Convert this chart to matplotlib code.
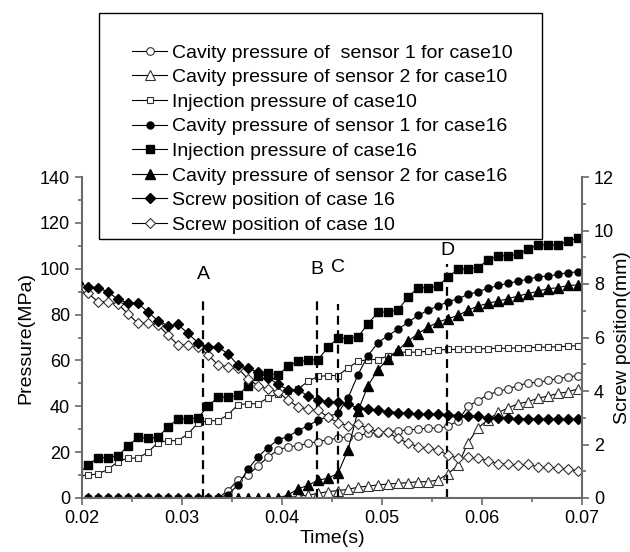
import matplotlib.pyplot as plt
from matplotlib.patches import Rectangle
from matplotlib.ticker import FormatStrFormatter, MultipleLocator

plt.rcParams['font.family'] = ['Liberation Sans', 'DejaVu Sans']

# sampling times (s)
time_s = [0.0196, 0.0206, 0.0216, 0.0226, 0.0236, 0.0246, 0.0256, 0.0266, 0.0276, 0.0286,
          0.0296, 0.0306, 0.0316, 0.0326, 0.0336, 0.0346, 0.0356, 0.0366, 0.0376, 0.0386,
          0.0396, 0.0406, 0.0416, 0.0426, 0.0436, 0.0446, 0.0456, 0.0466, 0.0476, 0.0486,
          0.0496, 0.0506, 0.0516, 0.0526, 0.0536, 0.0546, 0.0556, 0.0566, 0.0576, 0.0586,
          0.0596, 0.0606, 0.0616, 0.0626, 0.0636, 0.0646, 0.0656, 0.0666, 0.0676, 0.0686,
          0.0696]

# pressures (MPa)
inj_16 = [10.5, 14.4, 17.6, 17.6, 18.4, 22.7, 26.5, 26.0, 26.5, 31.0, 34.5, 34.5, 35.0,
          40.0, 44.0, 44.0, 44.8, 49.0, 53.0, 54.5, 53.5, 57.5, 59.6, 60.0, 60.4, 65.7,
          69.9, 69.5, 70.3, 76.0, 81.0, 81.2, 82.0, 87.6, 91.7, 91.7, 92.4, 96.5, 99.7,
          100.0, 100.5, 103.7, 105.6, 105.6, 106.3, 108.5, 110.4, 110.4, 110.4, 112.0, 113.3]
inj_10 = [9.5, 10.0, 10.5, 12.5, 15.9, 17.4, 17.4, 20.0, 24.2, 25.0, 25.0, 28.0, 32.7,
          33.7, 33.7, 36.3, 40.7, 41.1, 41.1, 43.7, 45.5, 46.5, 47.5, 50.9, 53.0, 53.4,
          53.4, 56.7, 59.6, 60.4, 60.4, 62.0, 63.6, 63.6, 63.6, 64.0, 64.5, 64.8, 64.8,
          65.0, 65.0, 65.2, 65.3, 65.3, 65.5, 65.6, 65.8, 65.8, 66.0, 66.2, 66.5]
cav1_16 = [0, 0, 0, 0, 0, 0, 0, 0, 0, 0, 0, 0, 0, 0, 0,
           1.5, 5.7, 12.5, 18.0, 22.0, 25.4, 26.8, 29.4, 31.5, 34.0, 35.5, 37.0, 43.6,
           53.8, 62.1, 67.8, 70.8, 73.6, 76.6, 79.6, 81.9, 83.7, 85.6, 86.9, 88.8, 90.0,
           91.4, 92.7, 93.6, 94.6, 95.4, 96.5, 96.8, 97.5, 98.3, 98.6]
cav1_10 = [0, 0, 0, 0, 0, 0, 0, 0, 0, 0, 0, 0, 0, 0, 0,
           3.2, 7.9, 10.0, 14.0, 17.8, 21.0, 22.3, 22.8, 23.8, 24.6, 25.4, 26.1, 26.8,
           27.1, 28.3, 28.3, 29.0, 29.3, 29.7, 30.0, 30.5, 30.5, 31.2, 33.7, 40.0, 42.5,
           45.0, 46.5, 47.6, 49.0, 50.2, 50.4, 51.3, 52.0, 52.8, 53.4]
cav2_16 = [0, 0, 0, 0, 0, 0, 0, 0, 0, 0, 0, 0, 0, 0, 0, 0, 0, 0, 0, 0, 0,
           1.3, 4.0, 5.5, 7.8, 8.6, 10.8, 21.0, 38.0, 49.0, 56.0, 60.7, 64.5, 68.4,
           71.7, 74.5, 76.7, 78.2, 79.6, 81.9, 83.7, 84.9, 85.9, 86.9, 88.1, 89.1,
           90.2, 91.3, 91.7, 92.7, 92.9]
cav2_10 = [0, 0, 0, 0, 0, 0, 0, 0, 0, 0, 0, 0, 0, 0, 0, 0, 0, 0, 0, 0, 0, 0,
           0.8, 1.2, 2.0, 2.8, 3.2, 3.8, 4.7, 5.2, 5.7, 6.1, 6.4, 6.7, 7.1, 7.1, 7.9,
           10.5, 14.4, 24.0, 30.6, 34.1, 37.3, 39.2, 41.1, 42.0, 43.5, 44.5, 45.6,
           46.3, 47.6]

# screw positions (mm)
screw_16 = [8.05, 7.9, 7.86, 7.7, 7.43, 7.28, 7.28, 6.95, 6.62, 6.44, 6.49, 6.15, 5.81,
            5.66, 5.66, 5.38, 4.97, 4.85, 4.7, 4.5, 4.25, 4.04, 4.04, 3.82, 3.66, 3.6,
            3.6, 3.52, 3.35, 3.32, 3.29, 3.23, 3.19, 3.17, 3.14, 3.14, 3.14, 3.12, 3.08,
            3.06, 3.05, 3.0, 3.0, 2.98, 2.97, 2.96, 2.96, 2.95, 2.95, 2.94, 2.94]
screw_10 = [7.75, 7.65, 7.34, 7.34, 7.25, 6.88, 6.53, 6.55, 6.47, 6.09, 5.72, 5.72, 5.66,
            5.36, 4.97, 4.91, 4.85, 4.45, 4.2, 4.06, 3.97, 3.66, 3.41, 3.32, 3.29, 3.02,
            2.82, 2.69, 2.75, 2.6, 2.48, 2.45, 2.23, 2.05, 1.92, 1.86, 1.79, 1.61, 1.48,
            1.54, 1.48, 1.39, 1.27, 1.27, 1.23, 1.27, 1.15, 1.15, 1.11, 1.07, 1.02]

# marked instants A-D
event_labels = ['A', 'B', 'C', 'D']
event_times = [0.0321, 0.0435, 0.0456, 0.0565]
event_tops = [86.6, 85.9, 84.7, 101.9]
event_label_y = [97.5, 99.7, 100.6, 108.0]

W, H = 630, 552
fig = plt.figure(figsize=(W / 100, H / 100), dpi=100)
ax = fig.add_axes([82 / W, 1 - 498 / H, 500 / W, 321 / H])
ax2 = ax.twinx()

grey = '#6a6a6a'
lw = 0.8
op = dict(markerfacecolor='white', markeredgecolor='#333333', markeredgewidth=0.8)
fl = dict(markerfacecolor='black', markeredgecolor='black')

l_c1_10, = ax.plot(time_s, cav1_10, '-', color='k', lw=lw, marker='o', ms=5.5, **op)
l_c2_10, = ax.plot(time_s, cav2_10, '-', color='k', lw=lw, marker='^', ms=6.5, **op)
l_i10, = ax.plot(time_s, inj_10, '-', color='k', lw=lw, marker='s', ms=5, **op)
l_c1_16, = ax.plot(time_s, cav1_16, '-', color='k', lw=lw, marker='o', ms=5, **fl)
l_i16, = ax.plot(time_s, inj_16, '-', color='k', lw=lw, marker='s', ms=5.5, **fl)
l_c2_16, = ax.plot(time_s, cav2_16, '-', color='k', lw=lw, marker='^', ms=6.5, **fl)
l_s10, = ax2.plot(time_s, screw_10, '-', color='k', lw=lw, marker='D', ms=5.5, **op)
l_s16, = ax2.plot(time_s, screw_16, '-', color='k', lw=lw, marker='D', ms=5.5, **fl)

for lab, t, top, ly in zip(event_labels, event_times, event_tops, event_label_y):
    ax.plot([t, t], [0, top], color='k', lw=1.6, dashes=(4, 2.5))
    ax.text(t, ly, lab, ha='center', va='center', fontsize=14)

ax.set_xlim(0.02, 0.07)
ax.set_ylim(0, 140)
ax2.set_ylim(0, 12)

ax.xaxis.set_major_locator(MultipleLocator(0.01))
ax.xaxis.set_minor_locator(MultipleLocator(0.005))
ax.xaxis.set_major_formatter(FormatStrFormatter('%.2f'))
ax.yaxis.set_major_locator(MultipleLocator(20))
ax.yaxis.set_minor_locator(MultipleLocator(10))
ax2.yaxis.set_major_locator(MultipleLocator(2))
ax2.yaxis.set_minor_locator(MultipleLocator(1))

for a in (ax, ax2):
    a.spines['top'].set_visible(False)
    a.tick_params(which='both', direction='out', color=grey, width=1.2, labelsize=13,
                  labelcolor='black')
    a.tick_params(which='major', length=5)
    a.tick_params(which='minor', length=3)
ax.spines['right'].set_visible(False)
ax2.spines['left'].set_visible(False)
ax2.spines['bottom'].set_visible(False)
for s in ('left', 'bottom'):
    ax.spines[s].set_color(grey)
    ax.spines[s].set_linewidth(1.5)
ax2.spines['right'].set_color(grey)
ax2.spines['right'].set_linewidth(1.5)

ax.set_xlabel('Time(s)', fontsize=14, labelpad=2)
ax.set_ylabel('Pressure(MPa)', fontsize=14, labelpad=4)
ax2.set_ylabel('Screw position(mm)', fontsize=14, labelpad=0)

# legend frame sits above the axes
fig.patches.append(Rectangle((99 / W, 1 - 239 / H), (542 - 99) / W, (239 - 13) / H,
                             transform=fig.transFigure, facecolor='white',
                             edgecolor='black', lw=1, zorder=1))

handles = [l_c1_10, l_c2_10, l_i10, l_c1_16, l_i16, l_c2_16, l_s16, l_s10]
labels = ['Cavity pressure of  sensor 1 for case10',
          'Cavity pressure of sensor 2 for case10',
          'Injection pressure of case10',
          'Cavity pressure of sensor 1 for case16',
          'Injection pressure of case16',
          'Cavity pressure of sensor 2 for case16',
          'Screw position of case 16',
          'Screw position of case 10']
fig.legend(handles, labels, loc='upper left', bbox_to_anchor=(132 / W, 1 - 44 / H),
           frameon=False, fontsize=14, handlelength=1.8, handletextpad=0.26,
           labelspacing=0.36, borderpad=0, borderaxespad=0)

fig.savefig('out.png', dpi=100)
